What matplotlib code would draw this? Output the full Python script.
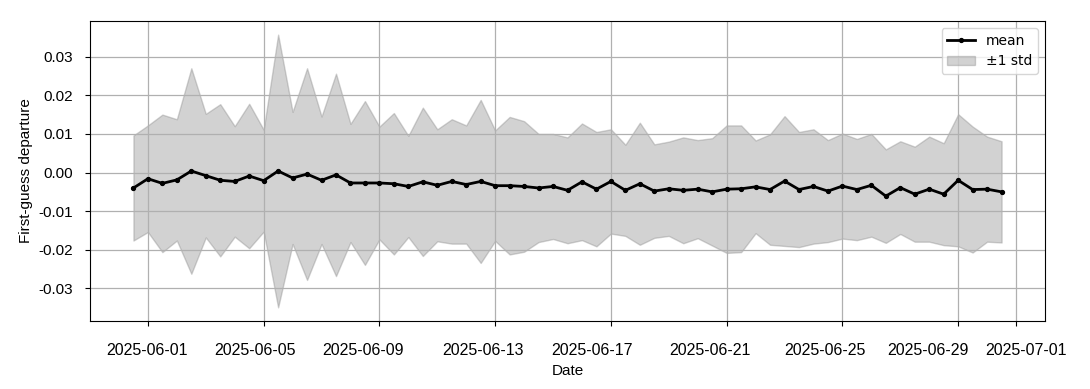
import matplotlib
matplotlib.use("Agg")
import matplotlib.pyplot as plt
import matplotlib.dates as mdates
from matplotlib.transforms import ScaledTranslation
import pandas as pd
import numpy as np

plt.rcParams['font.family'] = ['Liberation Sans', 'DejaVu Sans']
plt.rcParams['axes.unicode_minus'] = False

start_time = "2025-05-31 12:00"
n_points = 61
dates = pd.date_range(start_time, periods=n_points, freq="12h")

mean_vals = [
    -0.0040, -0.0016, -0.0028, -0.0019, 0.0004, -0.0008, -0.0020, -0.0023, -0.0009, -0.0021,
    0.0004, -0.0014, -0.0004, -0.0020, -0.0006, -0.0027, -0.0027, -0.0027, -0.0029, -0.0036,
    -0.0024, -0.0033, -0.0023, -0.0031, -0.0023, -0.0034, -0.0034, -0.0036, -0.0040, -0.0036,
    -0.0046, -0.0024, -0.0043, -0.0023, -0.0046, -0.0029, -0.0048, -0.0042, -0.0046, -0.0043,
    -0.0050, -0.0043, -0.0042, -0.0037, -0.0044, -0.0022, -0.0044, -0.0036, -0.0048, -0.0035,
    -0.0044, -0.0033, -0.0061, -0.0039, -0.0056, -0.0043, -0.0056, -0.0020, -0.0044, -0.0043,
    -0.0050,
]
std_vals = [
    0.0136, 0.0138, 0.0178, 0.0157, 0.0266, 0.0160, 0.0197, 0.0143, 0.0187, 0.0132,
    0.0353, 0.0171, 0.0274, 0.0165, 0.0262, 0.0153, 0.0212, 0.0146, 0.0183, 0.0131,
    0.0192, 0.0145, 0.0161, 0.0153, 0.0211, 0.0143, 0.0178, 0.0169, 0.0140, 0.0136,
    0.0137, 0.0151, 0.0148, 0.0135, 0.0118, 0.0158, 0.0121, 0.0122, 0.0137, 0.0127,
    0.0139, 0.0165, 0.0164, 0.0120, 0.0143, 0.0168, 0.0149, 0.0148, 0.0132, 0.0136,
    0.0131, 0.0133, 0.0121, 0.0120, 0.0123, 0.0136, 0.0132, 0.0171, 0.0163, 0.0136,
    0.0131,
]

xtick_dates = ["2025-06-01", "2025-06-05", "2025-06-09", "2025-06-13", "2025-06-17",
               "2025-06-21", "2025-06-25", "2025-06-29", "2025-07-01"]
ytick_vals = [-0.03, -0.02, -0.01, 0.00, 0.01, 0.02, 0.03]

# horizontal nudges (pixels) of the x tick labels, as laid out in the reference
xlabel_shift_px = [-1, -9, -16, -12, -19, -17, -17, -30, 10]

mean_arr = np.array(mean_vals)
std_arr = np.array(std_vals)

fig = plt.figure(figsize=(10.9, 3.89), dpi=100)
ax = fig.add_subplot(111)
fig.subplots_adjust(left=0.0826, right=0.9587, top=0.946, bottom=0.1748)

ax.plot(dates, mean_arr, color="black", lw=2.0, marker="o", ms=2.8, label="mean", zorder=3)
ax.fill_between(dates, mean_arr - std_arr, mean_arr + std_arr, color="gray", alpha=0.35,
                label="\u00b11 std", zorder=1)

ax.set_xticks(pd.to_datetime(xtick_dates))
ax.xaxis.set_major_formatter(mdates.DateFormatter("%Y-%m-%d"))
ax.set_yticks(ytick_vals)
ax.yaxis.set_major_formatter(matplotlib.ticker.FormatStrFormatter("%.2f"))

ax.grid(True, color="#b0b0b0", lw=0.9)
ax.set_xlabel("Date", fontsize=11, labelpad=4)
ax.set_ylabel("First-guess departure", fontsize=11, labelpad=4)
ax.tick_params(axis="x", labelsize=11.5, pad=12.5)
ax.tick_params(axis="y", labelsize=11, pad=8.5)

leg = ax.legend(loc="upper right", prop={"family": "DejaVu Sans", "size": 10})

fig.canvas.draw()
for lbl, dx in zip(ax.get_xticklabels(), xlabel_shift_px):
    lbl.set_transform(lbl.get_transform() + ScaledTranslation(dx / 100.0, 0, fig.dpi_scale_trans))

fig.savefig("out.png", dpi=100)
